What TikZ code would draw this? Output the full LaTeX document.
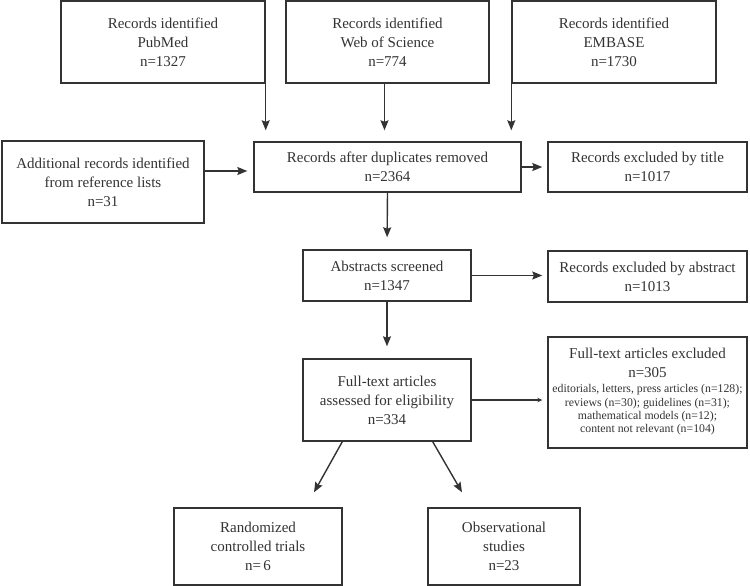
\documentclass[tikz,border=0pt]{standalone}
\usepackage{fontspec}
\setmainfont{Liberation Serif}
\usetikzlibrary{arrows.meta,calc}
\definecolor{ink}{HTML}{333333}
\newcommand{\bigf}{\fontsize{15}{19}\selectfont}
\newcommand{\smallf}{\fontsize{11.8}{13.3}\selectfont}
\begin{document}
\begin{tikzpicture}[x=1pt,y=1pt,
  box/.style={draw=ink, line width=1.4pt, text=ink, align=center, inner sep=0pt, font=\bigf},
  arr/.style={draw=ink, line width=1.4pt, -{Stealth[length=10pt,width=8pt,inset=1.5pt]}},
  ]
\useasboundingbox (0,0) rectangle (750,-586);
\node[box, minimum width=204pt, minimum height=82pt] (pub) at (163,-42) {Records identified\\PubMed\\n=1327};
\node[box, minimum width=203pt, minimum height=82pt] (wos) at (387.5,-42) {Records identified\\Web of Science\\n=774};
\node[box, minimum width=204pt, minimum height=82pt] (emb) at (614,-42) {Records identified\\EMBASE\\n=1730};
\node[box, minimum width=202pt, minimum height=82pt] (add) at (103,-182) {Additional records identified\\from reference lists\\n=31};
\node[box, minimum width=267pt, minimum height=50pt] (dup) at (387.5,-167) {Records after duplicates removed\\n=2364};
\node[box, minimum width=199pt, minimum height=50pt] (title) at (647.5,-167) {Records excluded by title\\n=1017};
\node[box, minimum width=168pt, minimum height=51pt] (abs) at (387,-275.5) {Abstracts screened\\n=1347};
\node[box, minimum width=199pt, minimum height=51pt] (absx) at (647.5,-276.5) {Records excluded by abstract\\n=1013};
\node[box, minimum width=168pt, minimum height=82pt] (full) at (387,-400) {Full-text articles\\assessed for eligibility\\n=334};
\node[box, minimum width=199pt, minimum height=111pt] (fullx) at (647.5,-392.5) {Full-text articles excluded\\n=305\\[-4pt]\smallf\begin{tabular}[t]{@{}c@{}}editorials, letters, press articles (n=128);\\reviews (n=30); guidelines (n=31);\\mathematical models (n=12);\\content not relevant (n=104)\end{tabular}};
\node[box, minimum width=168pt, minimum height=77pt] (rct) at (258,-546.5) {Randomized\\controlled trials\\n=\,6};
\node[box, minimum width=152pt, minimum height=77pt] (obs) at (504,-546.5) {Observational\\studies\\n=23};
% connectors
\draw[arr, shorten >=11pt] (pub.south east) -- (pub.south east |- dup.north);
\draw[arr, shorten >=11pt] ([xshift=-3pt]wos.south) -- ([xshift=-3pt]wos.south |- dup.north);
\draw[arr, shorten >=11pt] (emb.south west) -- (emb.south west |- dup.north);
\coordinate (a1) at ([yshift=-4pt]dup.west);
\draw[arr, shorten >=6pt] (add.east |- a1) -- (a1);
\draw[arr, shorten >=5pt] (dup.east) -- (title.west |- dup.east);
\draw[arr, shorten >=12pt] (dup.south) -- (abs.north);
\draw[arr, shorten >=5pt] (abs.east) -- (absx.west |- abs.east);
\draw[arr, shorten >=12pt] (abs.south) -- (full.north);
\draw[draw=ink, line width=1.4pt, -{Stealth[length=5pt,width=4.5pt]}, shorten >=5pt] (full.east) -- (fullx.west |- full.east);
\coordinate (r1) at ([xshift=56pt,yshift=15pt]rct.north);
\coordinate (o1) at ([xshift=-42pt,yshift=15pt]obs.north);
\draw[arr] ([xshift=40pt]full.south west) -- (r1);
\draw[arr] ([xshift=-39pt]full.south east) -- (o1);
\end{tikzpicture}
\end{document}
